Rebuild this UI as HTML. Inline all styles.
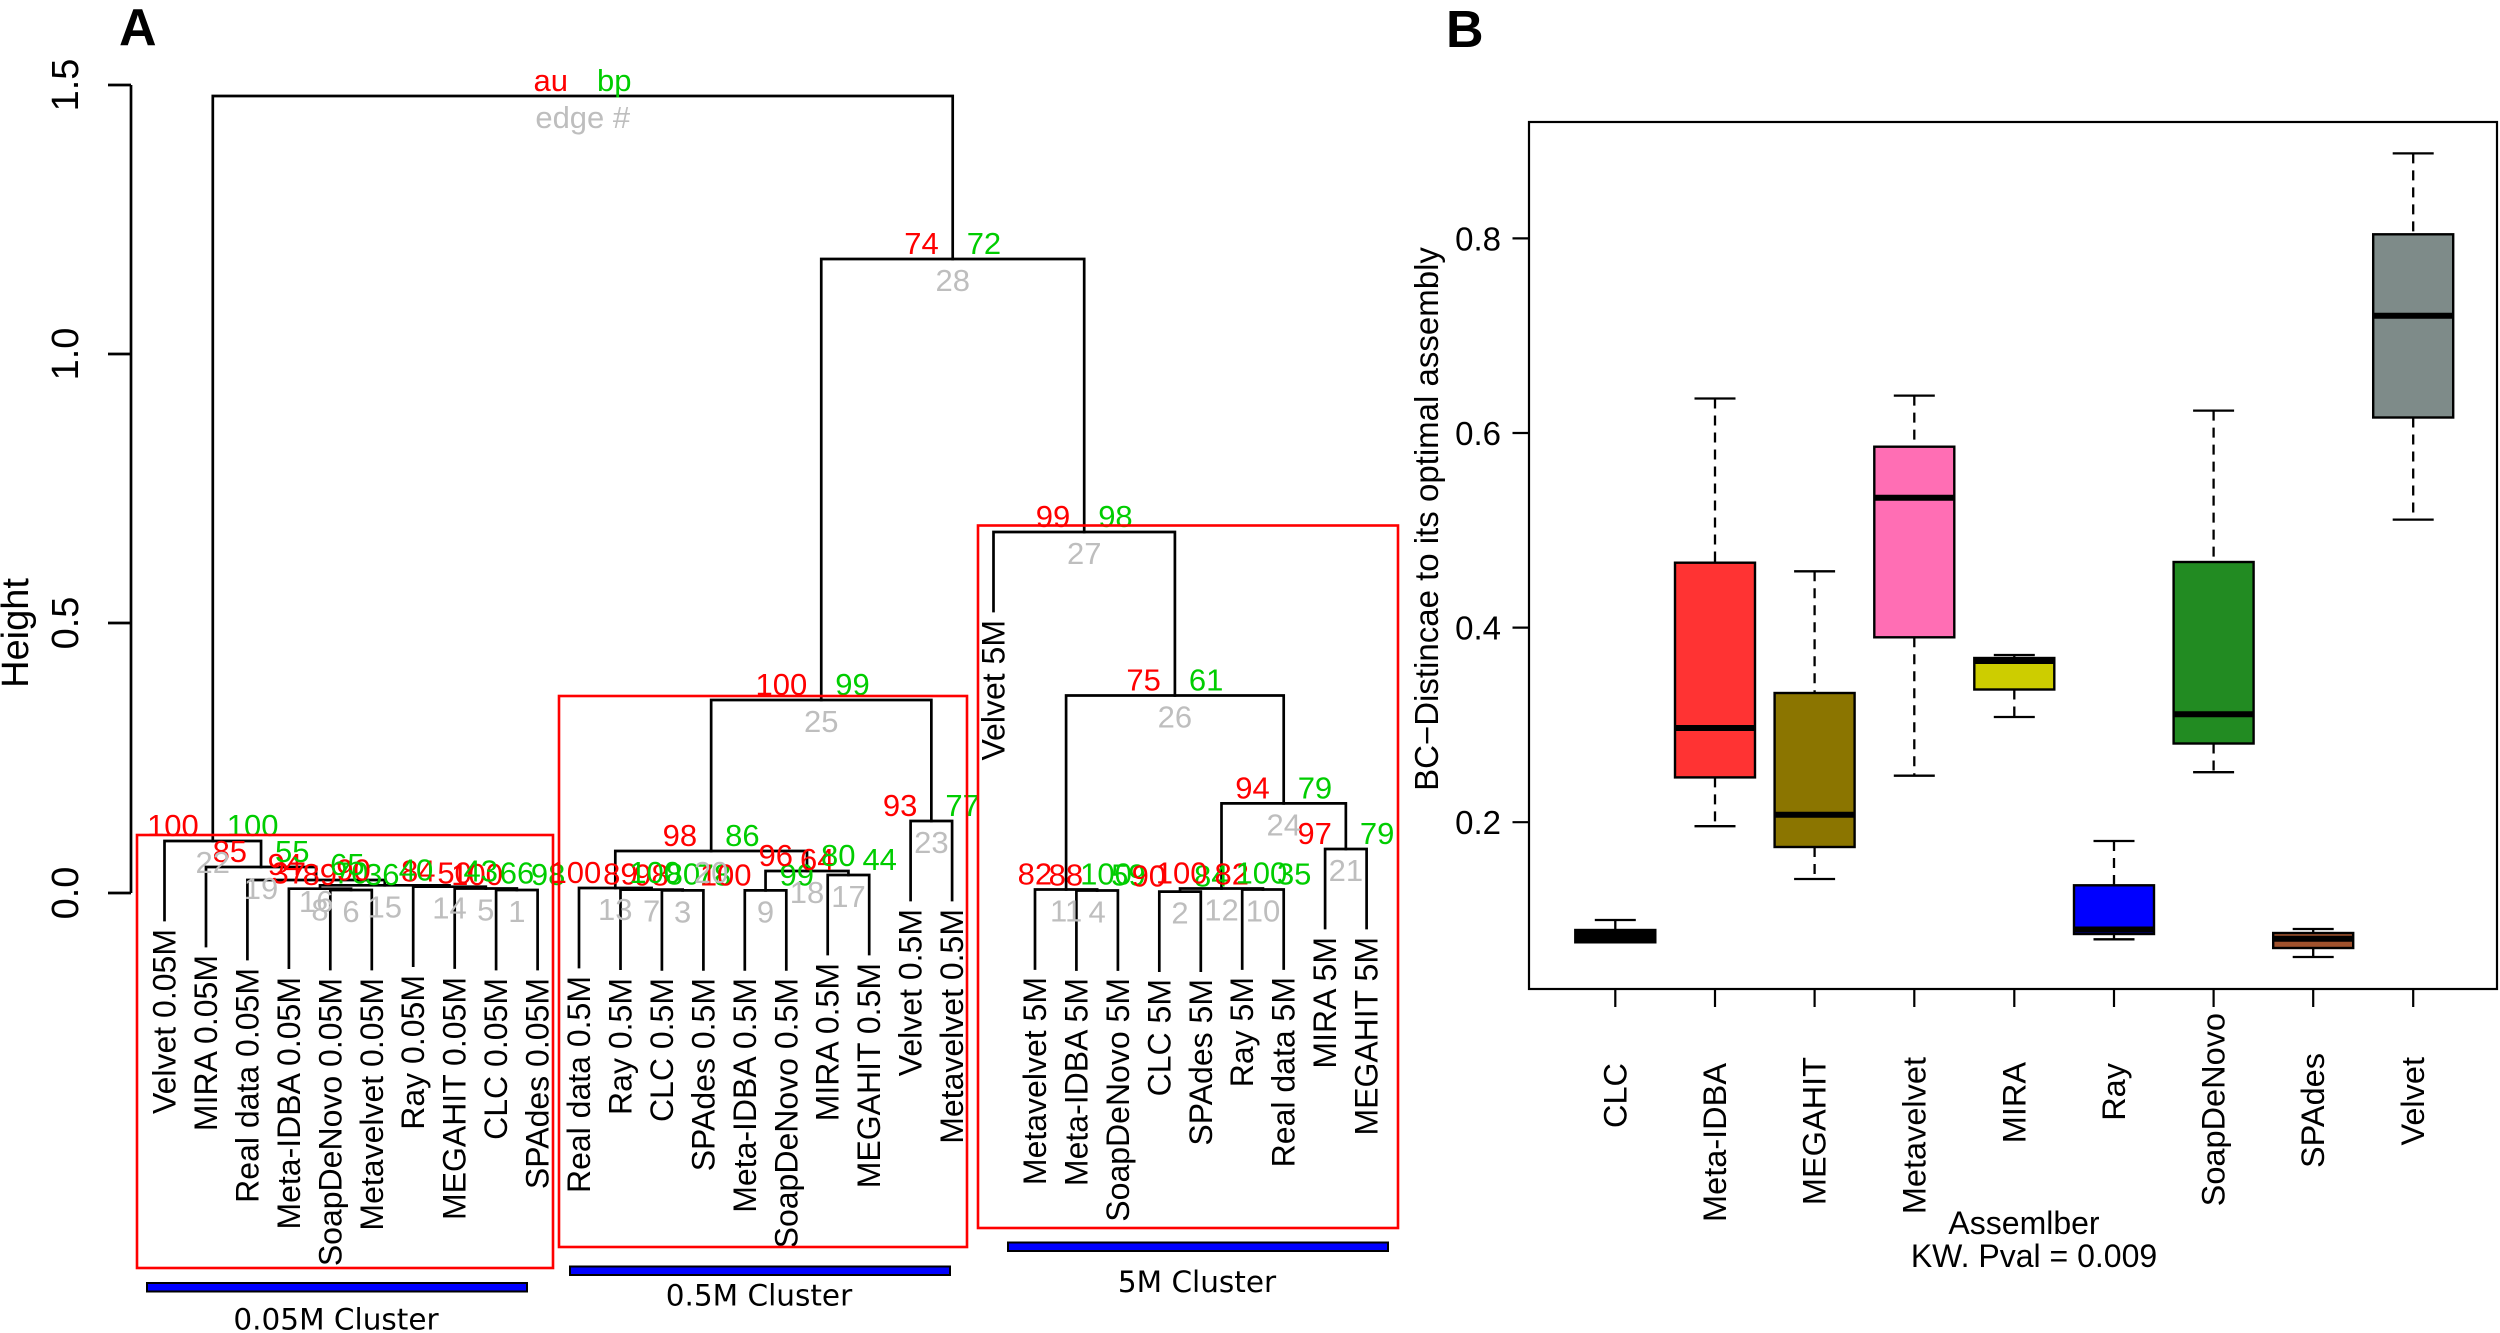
<!DOCTYPE html>
<html>
<head>
<meta charset="utf-8">
<style>
html,body{margin:0;padding:0;background:#fff;}
svg{display:block;}
text{font-family:"Liberation Sans",Arial,Helvetica,sans-serif;}
.au{fill:#FF0000;font-size:31px;text-anchor:end;}
.bp{fill:#00CD00;font-size:31px;text-anchor:start;}
.ed{fill:#BEBEBE;font-size:31px;text-anchor:middle;}
.lf{font-size:32px;text-anchor:end;fill:#000;}
.xl{font-size:32.5px;text-anchor:end;fill:#000;}
.cl{font-family:"DejaVu Sans","Liberation Sans",sans-serif;font-size:29.5px;text-anchor:middle;fill:#000;}
</style>
</head>
<body>
<svg width="2500" height="1333" viewBox="0 0 2500 1333" xmlns="http://www.w3.org/2000/svg">
<rect x="0" y="0" width="2500" height="1333" fill="#fff"/>

<!-- Panel letters -->
<text x="119" y="45" style="font-size:52px;font-weight:bold">A</text>
<text x="1446" y="47" style="font-size:52px;font-weight:bold">B</text>

<!-- ========== Dendrogram axis ========== -->
<g stroke="#000" stroke-width="2.7" fill="none">
<path d="M131 85 V893"/>
<path d="M108 85 H131 M108 354 H131 M108 623 H131 M108 893 H131"/>
</g>
<g style="font-size:38px" text-anchor="middle">
<text transform="translate(78,85) rotate(-90)">1.5</text>
<text transform="translate(78,354) rotate(-90)">1.0</text>
<text transform="translate(78,623) rotate(-90)">0.5</text>
<text transform="translate(78,893) rotate(-90)">0.0</text>
<text transform="translate(28,633) rotate(-90)">Height</text>
</g>

<!-- ========== Dendrogram lines ========== -->
<g stroke="#000" stroke-width="2.7" fill="none" stroke-linecap="square">
<!-- left cluster -->
<path d="M496.1 969 V890 H537.6 V969"/>
<path d="M454.7 967.5 V888.5 H516.85 V890"/>
<path d="M413.2 965.7 V886.7 H485.8 V888.5"/>
<path d="M330.3 969 V890 H371.8 V969"/>
<path d="M288.9 967.7 V888.7 H351.05 V890"/>
<path d="M320 888.7 V885.3 H449.5 V886.7"/>
<path d="M247.4 959 V880 H384.75 V885.3"/>
<path d="M206 946 V867 H316.1 V880"/>
<path d="M164.5 920 V841 H261.05 V867"/>
<!-- middle cluster -->
<path d="M661.9 969.4 V890.4 H703.4 V969.4"/>
<path d="M620.5 968.6 V889.6 H682.65 V890.4"/>
<path d="M579 967 V888 H651.6 V889.6"/>
<path d="M744.8 969.4 V890.4 H786.3 V969.4"/>
<path d="M827.7 954 V875 H869.2 V954"/>
<path d="M765.55 890.4 V871 H848.45 V875"/>
<path d="M615.3 888 V851 H807 V871"/>
<path d="M910.6 900 V821 H952.1 V900"/>
<path d="M711.15 851 V700 H931.35 V821"/>
<!-- right cluster -->
<path d="M1076.4 969.5 V890.5 H1117.9 V969.5"/>
<path d="M1035 968.5 V889.5 H1097.15 V890.5"/>
<path d="M1159.3 970.6 V891.6 H1200.8 V970.6"/>
<path d="M1242.2 968.5 V889.5 H1283.7 V968.5"/>
<path d="M1180.05 891.6 V888.5 H1262.95 V889.5"/>
<path d="M1325.1 928 V849 H1366.6 V928"/>
<path d="M1221.5 888.5 V803.4 H1345.85 V849"/>
<path d="M1066.1 889.5 V695.5 H1283.7 V803.4"/>
<path d="M993.5 611 V532 H1174.9 V695.5"/>
<path d="M821.25 700 V259 H1084.2 V532"/>
<path d="M212.8 841 V96 H952.7 V259"/>
</g>

<!-- ========== Leaf labels ========== -->
<g class="lf">
<text class="lf" transform="translate(175.5,929) rotate(-90)">Velvet 0.05M</text>
<text class="lf" transform="translate(217,955) rotate(-90)">MIRA 0.05M</text>
<text class="lf" transform="translate(258.4,968) rotate(-90)">Real data 0.05M</text>
<text class="lf" transform="translate(299.9,977) rotate(-90)">Meta-IDBA 0.05M</text>
<text class="lf" transform="translate(341.3,978) rotate(-90)">SoapDeNovo 0.05M</text>
<text class="lf" transform="translate(382.8,978) rotate(-90)">Metavelvet 0.05M</text>
<text class="lf" transform="translate(424.2,975) rotate(-90)">Ray 0.05M</text>
<text class="lf" transform="translate(465.7,977) rotate(-90)">MEGAHIT 0.05M</text>
<text class="lf" transform="translate(507.1,978) rotate(-90)">CLC 0.05M</text>
<text class="lf" transform="translate(548.6,978) rotate(-90)">SPAdes 0.05M</text>

<text class="lf" transform="translate(590,976) rotate(-90)">Real data 0.5M</text>
<text class="lf" transform="translate(631.5,978) rotate(-90)">Ray 0.5M</text>
<text class="lf" transform="translate(672.9,978) rotate(-90)">CLC 0.5M</text>
<text class="lf" transform="translate(714.4,978) rotate(-90)">SPAdes 0.5M</text>
<text class="lf" transform="translate(755.8,978) rotate(-90)">Meta-IDBA 0.5M</text>
<text class="lf" transform="translate(797.3,978) rotate(-90)">SoapDeNovo 0.5M</text>
<text class="lf" transform="translate(838.7,963) rotate(-90)">MIRA 0.5M</text>
<text class="lf" transform="translate(880.2,963) rotate(-90)">MEGAHIT 0.5M</text>
<text class="lf" transform="translate(921.6,909) rotate(-90)">Velvet 0.5M</text>
<text class="lf" transform="translate(963.1,909) rotate(-90)">Metavelvet 0.5M</text>

<text class="lf" transform="translate(1004.5,620) rotate(-90)">Velvet 5M</text>
<text class="lf" transform="translate(1046,977) rotate(-90)">Metavelvet 5M</text>
<text class="lf" transform="translate(1087.4,978) rotate(-90)">Meta-IDBA 5M</text>
<text class="lf" transform="translate(1128.9,978) rotate(-90)">SoapDeNovo 5M</text>
<text class="lf" transform="translate(1170.3,979) rotate(-90)">CLC 5M</text>
<text class="lf" transform="translate(1211.8,979) rotate(-90)">SPAdes 5M</text>
<text class="lf" transform="translate(1253.2,977) rotate(-90)">Ray 5M</text>
<text class="lf" transform="translate(1294.7,977) rotate(-90)">Real data 5M</text>
<text class="lf" transform="translate(1336.1,937) rotate(-90)">MIRA 5M</text>
<text class="lf" transform="translate(1377.6,937) rotate(-90)">MEGAHIT 5M</text>
</g>

<!-- ========== au / bp / edge labels ========== -->
<text class="au" x="568" y="91">au</text>
<text class="bp" x="597" y="91">bp</text>
<text class="ed" x="582.75" y="128">edge #</text>

<!-- left cluster -->
<text class="au" x="502.85" y="885">100</text><text class="bp" x="530.85" y="885">98</text><text class="ed" x="516.85" y="922">1</text>
<text class="au" x="471.8" y="883.5">50</text><text class="bp" x="499.8" y="883.5">66</text><text class="ed" x="485.8" y="920.5">5</text>
<text class="au" x="435.5" y="881.7">84</text><text class="bp" x="463.5" y="881.7">43</text><text class="ed" x="449.5" y="918.7">14</text>
<text class="au" x="337.05" y="885">89</text><text class="bp" x="365.05" y="885">36</text><text class="ed" x="351.05" y="922">6</text>
<text class="au" x="306" y="883.7">37</text><text class="bp" x="334" y="883.7">70</text><text class="ed" x="320" y="920.7">8</text>
<text class="au" x="370.75" y="880.3">90</text><text class="bp" x="398.75" y="880.3">40</text><text class="ed" x="384.75" y="917.3">15</text>
<text class="au" x="302.1" y="875">94</text><text class="bp" x="330.1" y="875">65</text><text class="ed" x="316.1" y="912">16</text>
<text class="au" x="247.05" y="862">85</text><text class="bp" x="275.05" y="862">55</text><text class="ed" x="261.05" y="899">19</text>
<text class="au" x="198.8" y="836">100</text><text class="bp" x="226.8" y="836">100</text><text class="ed" x="212.8" y="873">22</text>

<!-- middle cluster -->
<text class="au" x="668.65" y="885.4">98</text><text class="bp" x="696.65" y="885.4">78</text><text class="ed" x="682.65" y="922.4">3</text>
<text class="au" x="637.6" y="884.6">89</text><text class="bp" x="665.6" y="884.6">80</text><text class="ed" x="651.6" y="921.6">7</text>
<text class="au" x="601.3" y="883">100</text><text class="bp" x="629.3" y="883">100</text><text class="ed" x="615.3" y="920">13</text>
<text class="au" x="751.55" y="885.4">100</text><text class="bp" x="779.55" y="885.4">99</text><text class="ed" x="765.55" y="922.4">9</text>
<text class="au" x="834.45" y="870">64</text><text class="bp" x="862.45" y="870">44</text><text class="ed" x="848.45" y="907">17</text>
<text class="au" x="793" y="866">96</text><text class="bp" x="821" y="866">80</text><text class="ed" x="807" y="903">18</text>
<text class="au" x="697.15" y="846">98</text><text class="bp" x="725.15" y="846">86</text><text class="ed" x="711.15" y="883">20</text>
<text class="au" x="917.35" y="816">93</text><text class="bp" x="945.35" y="816">77</text><text class="ed" x="931.35" y="853">23</text>
<text class="au" x="807.25" y="695">100</text><text class="bp" x="835.25" y="695">99</text><text class="ed" x="821.25" y="732">25</text>

<!-- right cluster -->
<text class="au" x="1083.15" y="885.5">88</text><text class="bp" x="1111.15" y="885.5">59</text><text class="ed" x="1097.15" y="922.5">4</text>
<text class="au" x="1052.1" y="884.5">82</text><text class="bp" x="1080.1" y="884.5">100</text><text class="ed" x="1066.1" y="921.5">11</text>
<text class="au" x="1166.05" y="886.6">90</text><text class="bp" x="1194.05" y="886.6">84</text><text class="ed" x="1180.05" y="923.6">2</text>
<text class="au" x="1248.95" y="884.5">82</text><text class="bp" x="1276.95" y="884.5">35</text><text class="ed" x="1262.95" y="921.5">10</text>
<text class="au" x="1207.5" y="883.5">100</text><text class="bp" x="1235.5" y="883.5">100</text><text class="ed" x="1221.5" y="920.5">12</text>
<text class="au" x="1331.85" y="844">97</text><text class="bp" x="1359.85" y="844">79</text><text class="ed" x="1345.85" y="881">21</text>
<text class="au" x="1269.7" y="798.4">94</text><text class="bp" x="1297.7" y="798.4">79</text><text class="ed" x="1283.7" y="835.4">24</text>
<text class="au" x="1160.9" y="690.5">75</text><text class="bp" x="1188.9" y="690.5">61</text><text class="ed" x="1174.9" y="727.5">26</text>
<text class="au" x="1070.2" y="527">99</text><text class="bp" x="1098.2" y="527">98</text><text class="ed" x="1084.2" y="564">27</text>
<text class="au" x="938.7" y="254">74</text><text class="bp" x="966.7" y="254">72</text><text class="ed" x="952.7" y="291">28</text>

<!-- ========== Red cluster rectangles ========== -->
<g fill="none" stroke="#FF0000" stroke-width="2.6">
<rect x="137" y="835" width="416" height="433"/>
<rect x="559" y="696" width="408" height="551"/>
<rect x="978" y="525.5" width="420" height="702.5"/>
</g>

<!-- ========== Blue bars ========== -->
<g fill="#0000FF" stroke="#000" stroke-width="2">
<rect x="147" y="1283" width="380" height="8.5"/>
<rect x="570" y="1266.5" width="380" height="8.5"/>
<rect x="1008" y="1242.5" width="380" height="8.5"/>
</g>
<text class="cl" x="336" y="1329.5">0.05M Cluster</text>
<text class="cl" x="759" y="1305.5">0.5M Cluster</text>
<text class="cl" x="1197" y="1292">5M Cluster</text>

<!-- ========== Boxplot (panel B) ========== -->
<rect x="1529" y="122" width="968" height="867" fill="none" stroke="#000" stroke-width="2.2"/>
<g stroke="#000" stroke-width="2.2">
<path d="M1512.5 822.2 H1529 M1512.5 627.6 H1529 M1512.5 433 H1529 M1512.5 238.4 H1529"/>
<path d="M1615.3 989 V1007 M1715 989 V1007 M1814.6 989 V1007 M1914.3 989 V1007 M2014.3 989 V1007 M2114 989 V1007 M2213.6 989 V1007 M2313.2 989 V1007 M2413.2 989 V1007"/>
</g>
<g style="font-size:33px" text-anchor="end">
<text x="1501" y="834">0.2</text>
<text x="1501" y="639.5">0.4</text>
<text x="1501" y="445">0.6</text>
<text x="1501" y="250.5">0.8</text>
</g>
<text transform="translate(1438,519) rotate(-90)" text-anchor="middle" style="font-size:33px">BC−Distincae to its optimal assembly</text>

<!-- whiskers (dashed) -->
<g stroke="#000" stroke-width="2.3" stroke-dasharray="10 7" fill="none">
<path d="M1615.3 920 V930"/>
<path d="M1715 398.5 V562.7 M1715 777.4 V826.2"/>
<path d="M1814.6 571.3 V693 M1814.6 847 V879"/>
<path d="M1914.3 395.6 V446.7 M1914.3 637.3 V775.7"/>
<path d="M2014.3 655 V658 M2014.3 689.5 V717"/>
<path d="M2114 841 V885.3 M2114 934 V939.3"/>
<path d="M2213.6 410.6 V562 M2213.6 743.5 V772.2"/>
<path d="M2313.2 929 V933 M2313.2 948 V957"/>
<path d="M2413.2 153.4 V234.3 M2413.2 417.5 V519.6"/>
</g>
<!-- whisker caps -->
<g stroke="#000" stroke-width="2.3">
<path d="M1594.8 920 H1635.8"/>
<path d="M1694.5 398.5 H1735.5 M1694.5 826.2 H1735.5"/>
<path d="M1794.1 571.3 H1835.1 M1794.1 879 H1835.1"/>
<path d="M1893.8 395.6 H1934.8 M1893.8 775.7 H1934.8"/>
<path d="M1993.8 655 H2034.8 M1993.8 717 H2034.8"/>
<path d="M2093.5 841 H2134.5 M2093.5 939.3 H2134.5"/>
<path d="M2193.1 410.6 H2234.1 M2193.1 772.2 H2234.1"/>
<path d="M2292.7 929 H2333.7 M2292.7 957 H2333.7"/>
<path d="M2392.7 153.4 H2433.7 M2392.7 519.6 H2433.7"/>
</g>
<!-- boxes -->
<g stroke="#000" stroke-width="2.4">
<rect x="1575.3" y="930" width="80" height="12.3" fill="#000"/>
<rect x="1675" y="562.7" width="80" height="214.7" fill="#FF3333"/>
<rect x="1774.6" y="693" width="80" height="154" fill="#8B7500"/>
<rect x="1874.3" y="446.7" width="80" height="190.6" fill="#FF6EB4"/>
<rect x="1974.3" y="658" width="80" height="31.5" fill="#CDCD00"/>
<rect x="2074" y="885.3" width="80" height="48.7" fill="#0000FF"/>
<rect x="2173.6" y="562" width="80" height="181.5" fill="#228B22"/>
<rect x="2273.2" y="933" width="80" height="15" fill="#A0522D"/>
<rect x="2373.2" y="234.3" width="80" height="183.2" fill="#7E8B89"/>
</g>
<!-- medians -->
<g stroke="#000" stroke-width="6">
<path d="M1575.3 936 H1655.3"/>
<path d="M1675 728 H1755"/>
<path d="M1774.6 814.7 H1854.6"/>
<path d="M1874.3 497.8 H1954.3"/>
<path d="M1974.3 661 H2054.3"/>
<path d="M2074 929.5 H2154"/>
<path d="M2173.6 714.2 H2253.6"/>
<path d="M2273.2 938.7 H2353.2"/>
<path d="M2373.2 315.8 H2453.2"/>
</g>

<!-- x labels -->
<text class="xl" transform="translate(1626.3,1063) rotate(-90)">CLC</text>
<text class="xl" transform="translate(1726,1063) rotate(-90)">Meta-IDBA</text>
<text class="xl" transform="translate(1825.6,1057) rotate(-90)">MEGAHIT</text>
<text class="xl" transform="translate(1925.3,1057) rotate(-90)">Metavelvet</text>
<text class="xl" transform="translate(2025.3,1062) rotate(-90)">MIRA</text>
<text class="xl" transform="translate(2125,1063) rotate(-90)">Ray</text>
<text class="xl" transform="translate(2224.6,1013) rotate(-90)">SoapDeNovo</text>
<text class="xl" transform="translate(2324.2,1053) rotate(-90)">SPAdes</text>
<text class="xl" transform="translate(2424.2,1057) rotate(-90)">Velvet</text>

<text x="2024" y="1234" text-anchor="middle" style="font-size:32px">Assemlber</text>
<text x="2034" y="1267" text-anchor="middle" style="font-size:32px">KW. Pval = 0.009</text>
</svg>
</body>
</html>
